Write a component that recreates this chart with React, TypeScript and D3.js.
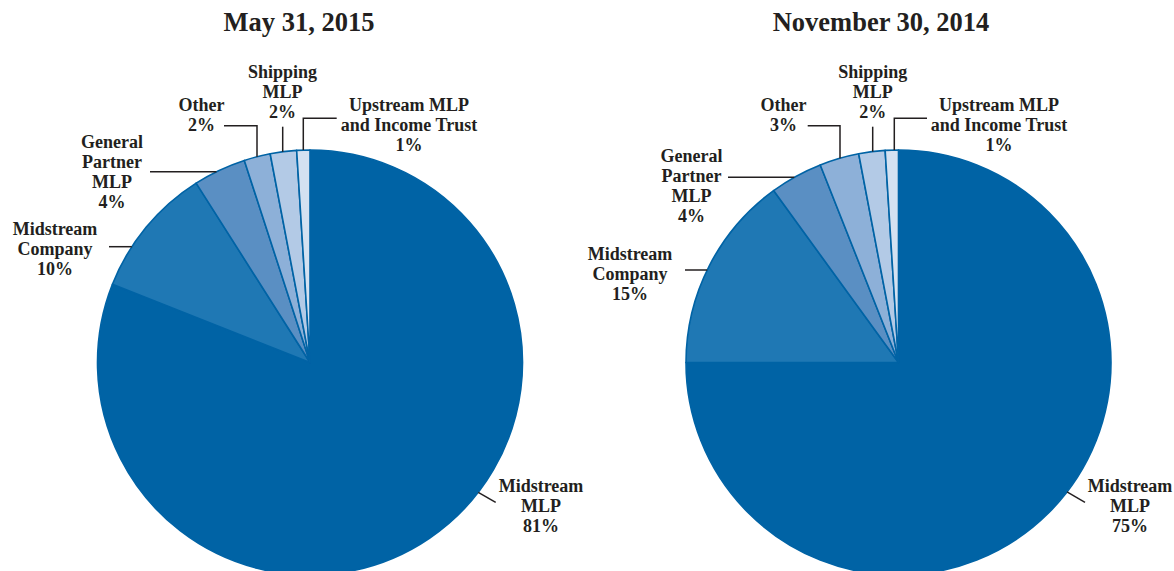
import React from 'react';
import * as d3 from 'd3';

// categories, in drawing order (clockwise from 12 o'clock)
const categories = [
  'Midstream MLP',
  'Midstream Company',
  'General Partner MLP',
  'Other',
  'Shipping MLP',
  'Upstream MLP and Income Trust',
];

const may2015 = [81, 10, 4, 2, 2, 1];
const nov2014 = [75, 15, 4, 3, 2, 1];

const titles = ['May 31, 2015', 'November 30, 2014'];

const colors = ['#0063a5', '#1f78b4', '#5a8fc3', '#8db0d8', '#b3cae6', '#d4e1f1'];

const W = 1174;
const H = 571;
const INK = '#231f20';

type Pt = [number, number];

// label layout per pie: text lines split, label center, leader start + direction to the circle
type LabelLayout = { lines: string[]; x: number; y: number; leader: Pt[]; dir: Pt };

const leftLayout: LabelLayout[] = [
  { lines: ['Midstream', 'MLP'], x: 541, y: 486, leader: [[495.7, 502.3]], dir: [-17.4, -10] },
  { lines: ['Midstream', 'Company'], x: 55, y: 229, leader: [[109, 246.7]], dir: [1, 0] },
  { lines: ['General', 'Partner', 'MLP'], x: 112, y: 141.5, leader: [[150, 171.7]], dir: [1, 0] },
  { lines: ['Other'], x: 201.5, y: 105, leader: [[224, 125.7], [257, 125.7]], dir: [0, 1] },
  { lines: ['Shipping', 'MLP'], x: 282.5, y: 71.5, leader: [[282.7, 126.7]], dir: [0, 1] },
  { lines: ['Upstream MLP', 'and Income Trust'], x: 409, y: 104.3, leader: [[336.7, 118.3], [303.3, 118.3]], dir: [0, 1] },
];

const rightLayout: LabelLayout[] = [
  { lines: ['Midstream', 'MLP'], x: 1130, y: 486, leader: [[1085, 502.3]], dir: [-16.7, -9.6] },
  { lines: ['Midstream', 'Company'], x: 630, y: 253.3, leader: [[685, 270]], dir: [1, 0] },
  { lines: ['General', 'Partner', 'MLP'], x: 691.5, y: 155.5, leader: [[728, 177.3]], dir: [1, 0] },
  { lines: ['Other'], x: 783.5, y: 105, leader: [[807.7, 125.7], [840, 125.7]], dir: [0, 1] },
  { lines: ['Shipping', 'MLP'], x: 872.7, y: 71.5, leader: [[872.7, 126.7]], dir: [0, 1] },
  { lines: ['Upstream MLP', 'and Income Trust'], x: 999, y: 104.5, leader: [[927, 118.3], [894.3, 118.3]], dir: [0, 1] },
];

const pies = [
  { title: titles[0], titleX: 299, values: may2015, cx: 310, cy: 362.5, r: 212.5, layout: leftLayout },
  { title: titles[1], titleX: 881, values: nov2014, cx: 898.5, cy: 362.5, r: 212.5, layout: rightLayout },
];

// where a ray from p along d first meets the circle
function hitCircle(p: Pt, d: Pt, cx: number, cy: number, r: number): Pt {
  const len = Math.hypot(d[0], d[1]);
  const ux = d[0] / len;
  const uy = d[1] / len;
  const fx = p[0] - cx;
  const fy = p[1] - cy;
  const b = fx * ux + fy * uy;
  const c = fx * fx + fy * fy - r * r;
  const disc = Math.max(0, b * b - c);
  const t = -b - Math.sqrt(disc);
  return [p[0] + ux * t, p[1] + uy * t];
}

const FS = 18;
const LH = 20;

const PieChart = ({ title, titleX, values, cx, cy, r, layout }: any) => {
  const pie = d3.pie<number>().sort(null).value((d) => d).startAngle(0).endAngle(2 * Math.PI);
  const arc = d3.arc<d3.PieArcDatum<number>>().innerRadius(0).outerRadius(r);
  const arcs = pie(values);

  return (
    <g>
      <text x={titleX} y={22} dy="0.35em" textAnchor="middle" fontSize={26.5} fontWeight="bold" fill={INK}>
        {title}
      </text>
      <g transform={`translate(${cx},${cy})`}>
        {arcs.map((a, i) => (
          <path key={i} d={arc(a) || ''} fill={colors[i]} stroke="#0063a5" strokeWidth={1.6} strokeLinejoin="round" />
        ))}
      </g>
      {layout.map((l: LabelLayout, i: number) => {
        const end = hitCircle(l.leader[l.leader.length - 1], l.dir, cx, cy, r);
        const pts = [...l.leader, end];
        const lines = [...l.lines, `${values[i]}%`];
        return (
          <g key={categories[i]}>
            <path d={d3.line()(pts) || ''} fill="none" stroke={INK} strokeWidth={1.5} />
            <text textAnchor="middle" fontSize={FS} fontWeight="bold" fill={INK}>
              {lines.map((t, k) => (
                <tspan key={k} x={l.x} y={l.y + k * LH} dy="0.35em">
                  {t}
                </tspan>
              ))}
            </text>
          </g>
        );
      })}
    </g>
  );
};

export default function App() {
  return (
    <div style={{ position: 'absolute', left: 0, top: 0, width: W, height: H, background: '#fff' }}>
      <svg width={W} height={H} style={{ display: 'block', fontFamily: '"Liberation Serif", "Times New Roman", serif' }}>
        {pies.map((p) => (
          <PieChart key={p.title} {...p} />
        ))}
      </svg>
    </div>
  );
}
